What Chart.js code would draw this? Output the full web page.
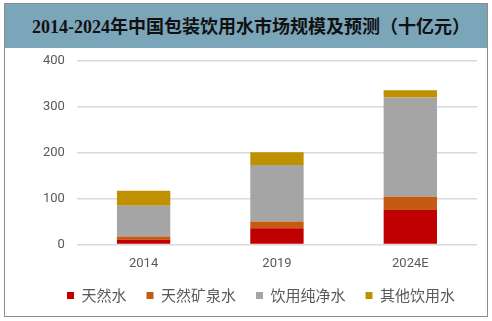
<!DOCTYPE html>
<html>
<head>
<meta charset="utf-8">
<script src="https://cdn.jsdelivr.net/npm/chart.js@4"></script>
<style>
	body { margin: 0; background: #fff; }
	#frame { position: absolute; left: 4px; top: 3px; width: 482px; height: 312px; border: 1px solid #8c8c8c; }
	#head { height: 44px; background: #7ba6ba; color: #111; font: bold 18px "Liberation Serif", "Noto Sans CJK SC", serif; text-align: center; line-height: 46px; padding-left: 10px; }
	#wrap { position: absolute; left: 0; top: 37px; width: 482px; height: 275px; }
</style>
</head>
<body>
<div id="frame">
	<div id="head">2014-2024年中国包装饮用水市场规模及预测（十亿元）</div>
	<div id="wrap"><canvas id="grafico"></canvas></div>
</div>
<script>
	var anios = ['2014', '2019', '2024E']
	var nombres = ['天然水', '天然矿泉水', '饮用纯净水', '其他饮用水']
	var natural = [10, 35, 75]
	var mineral = [7, 15, 29]
	var purificada = [67, 123, 216]
	var otras = [33, 28, 16]
	var colores = ['#c00000', '#c55a11', '#a5a5a5', '#bf9000']

	var series = [natural, mineral, purificada, otras]
	var gris = '#595959'

	// la leyenda ocupa menos alto y se corre un poco a la derecha
	var recorte = 9
	var ajusteLeyenda = {
		id: 'ajusteLeyenda',
		beforeInit: function(chart){
			var fit = chart.legend.fit
			chart.legend.fit = function(){
				fit.bind(chart.legend)()
				this.height -= recorte
			}
		},
		afterLayout: function(chart){
			var l = chart.legend
			l.top -= recorte - 1
			l.bottom -= recorte - 1
			l.left += 7
			l.right += 7
		}
	}

	var ctx = document.getElementById('grafico').getContext('2d')
	window.miGrafico = new Chart(ctx, {
		type: 'bar',
		data: {
			labels: anios,
			datasets: series.map(function(s, i){
				return {
					label: nombres[i],
					data: s,
					backgroundColor: colores[i],
					borderWidth: 0,
					categoryPercentage: 0.4,
					barPercentage: 1
				}
			})
		},
		options: {
			responsive: true,
			maintainAspectRatio: false,
			animation: false,
			layout: { padding: { left: 26, right: 10, top: 3, bottom: 4 } },
			plugins: {
				legend: {
					position: 'bottom',
					labels: {
						boxWidth: 7,
						boxHeight: 7,
						padding: 20,
						color: gris,
						font: { size: 15, family: '"Noto Sans CJK SC", sans-serif' }
					}
				},
				tooltip: { enabled: false }
			},
			scales: {
				x: {
					stacked: true,
					grid: { display: false },
					border: { display: false },
					ticks: { color: gris, font: { size: 13, family: 'Roboto, "Liberation Sans", sans-serif' }, padding: 4 }
				},
				y: {
					stacked: true,
					min: 0,
					max: 400,
					ticks: { stepSize: 100, color: gris, font: { size: 13, family: 'Roboto, "Liberation Sans", sans-serif' }, padding: 12 },
					grid: { color: '#d9d9d9', lineWidth: 1.5, drawTicks: false },
					border: { display: false }
				}
			}
		},
		plugins: [ajusteLeyenda]
	})
</script>
</body>
</html>
